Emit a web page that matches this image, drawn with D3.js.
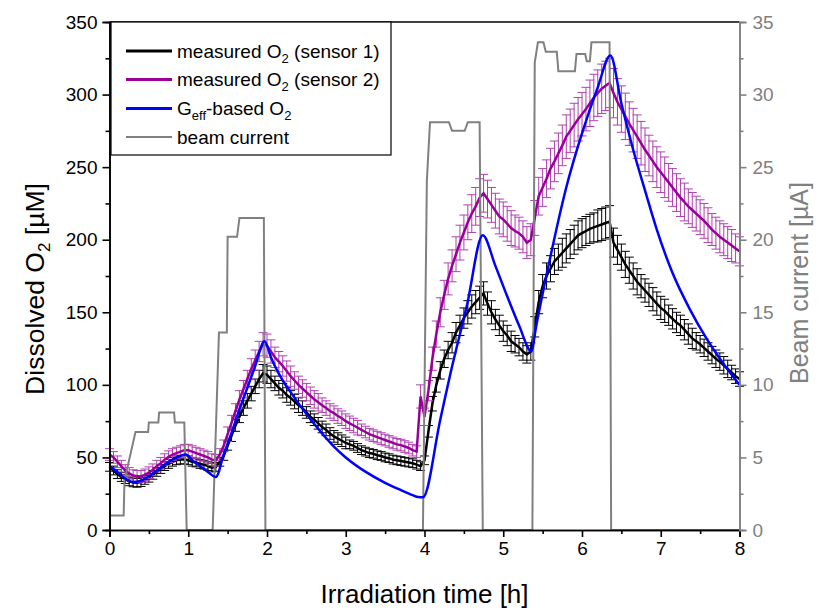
<!DOCTYPE html>
<html><head><meta charset="utf-8">
<script src="https://cdn.jsdelivr.net/npm/d3@7/dist/d3.min.js"></script>
<style>body{margin:0;background:#fff}svg{display:block;font-family:"Liberation Sans",Arial,sans-serif}</style>
</head><body><svg id="c" width="819" height="611"></svg>
<script>
// ---------- data ----------
const xTicks = [0,1,2,3,4,5,6,7,8];
const yTicks = [0,50,100,150,200,250,300,350];
const y2Ticks = [0,5,10,15,20,25,30,35];
const seriesNames = ["measured O2 (sensor 1)","measured O2 (sensor 2)","Geff-based O2","beam current"];

// measurement times [h] (every 3 min)
const tS = d3.range(161).map(i => +(i*0.05).toFixed(2));

const sensor1 = [43.5,41,38.5,36.5,35,33.5,32.8,32.5,33,34.5,36,38,40,42,44,45.5,47,48,48.5,48.5,48,47,46.5,45.5,45,44,43,43.5,
 47,51,58,65,72,78,84,89,94,99,104,108,
 107,104,101,98,96,93,91,88.5,86,84,81,
 78,76,73.5,71,69,66.5,64.5,63,61.5,60,59,58,56.5,55,54,53,52.5,51.5,51,50,49.5,48.5,48,47.5,47,46.5,46,45,44,
 48,68,87,100,110,118,124,129,136,141,146,150,154,157,160,163,
 156,150,145,141,137,134,130,128,126,123,121,123,
 140,157,168,175,180,185,188,191,194,197,200,203,204.5,206,207.5,208.5,209.5,210.5,211.5,212.5,
 198,193,188,183,179,175,171,168,165,162,159,156,153,151,148,145.5,143,141,138,135,132,130,128,125.5,123,120.5,118,116,113.5,111,108.5,106,104];
const err1 = [3,3,3,3,3,3,3,3,3,3,3,3,3,3,3,3,3,3,3,3,3,3,3,3,3,3,3,3,
 3,3,3,4,4,4,5,5,5,5,6,6,
 6,6,5,5,5,5,5,5,5,5,4,
 4,4,4,4,4,4,4,4,4,4,3,3,3,3,3,3,3,3,3,3,3,3,3,3,3,3,3,3,3,
 3,4,5,5,6,6,6,7,7,7,7,8,8,8,8,8,
 8,8,7,7,7,7,7,6,6,6,6,6,
 7,8,8,9,9,9,9,10,10,10,10,10,10,10,10,10,11,11,11,11,
 10,10,9,9,9,9,9,8,8,8,8,8,8,8,7,7,7,7,7,7,7,6,6,6,6,6,6,6,6,6,5,5,5];

const sensor2 = [52,50,47,44,41,39,37.5,37,37,38,39.5,41.5,44,46,48.5,50.5,52,53,54,55,55,54,53,52,51,50,48.5,48,
 52,58,66,74,82,90,97,104,111,117,123,128,
 127,123,119,116,113,109.5,106,103,100,97.5,95,
 92.5,90,88,86,84,82,80.5,78.5,77,75,73.5,72,70.5,69,67.5,66,65,64,63,62,61,60,59,58.5,57.5,56.5,55,54,
 92,
 78,96,118,135,150,162,173,182,190,198,205,212,218,223,229,232,
 228,224,220,216,214,211,208,206,204.5,202,198,200,
 215,230,236,242,249,254,259.5,265,271,275,279,283,286.5,290,294,298,301,304,306,308,
 301,295,290,285,280,275.5,271,266.5,262,258,254,250,246.5,243,239.5,236,232.5,229,226,223,220.5,218,215.5,213,210,207,204.5,202,200,198,196,194,192];
const err2 = [4,4,4,4,4,4,4,4,4,4,4,4,4,4,4,4,4,4,4,4,4,4,4,4,4,4,4,4,
 4,4,5,5,5,6,6,6,7,7,7,8,
 8,8,7,7,7,7,7,6,6,6,6,
 6,6,6,5,5,5,5,5,5,5,5,5,5,4,4,4,4,4,4,4,4,4,4,4,4,4,4,4,
 8,
 6,7,8,9,10,10,11,11,12,12,12,12,13,13,13,13,
 13,12,12,12,12,12,12,11,11,11,11,11,
 12,13,13,13,14,14,14,14,15,15,15,15,15,15,16,16,16,17,17,17,
 17,16,16,16,15,15,15,15,15,14,14,14,14,14,13,13,13,13,13,12,12,12,12,12,12,11,11,11,11,11,11,10,10];

const blueT = [0,0.1,0.2,0.3,0.4,0.5,0.6,0.7,0.8,0.9,0.97,1.05,1.15,1.25,1.35,1.45,1.55,1.65,1.75,1.85,1.97,2.05,2.1,2.2,2.3,2.43,2.6,2.85,3.0,3.27,3.5,3.7,3.85,3.92,3.98,4.2,4.33,4.54,4.74,4.9,5.05,5.2,5.36,5.41,5.59,5.8,6.01,6.2,6.36,6.5,6.65,6.8,6.95,7.15,7.37,7.58,7.79,8.0];
const blueV = [44,40,35.5,33,34,37,41,45,48.5,51,52,48,44,40,36.5,52,67,83,98,113,130,119,113,103,95,85,73,57.5,50,39.5,32.5,27.5,24,22.7,22.5,76,108,155,203,182,161,141,123,138,186,236,275,305,327,294,262,234,207,177,152,132,115,100];

const beamT = [0,0.18,0.19,0.33,0.49,0.50,0.62,0.63,0.82,0.83,0.95,0.98,1.31,1.39,1.49,1.50,1.62,1.65,1.96,1.98,3.98,4.03,4.07,4.31,4.35,4.51,4.55,4.70,4.74,5.37,5.40,5.44,5.51,5.54,5.68,5.70,5.91,5.93,6.04,6.06,6.10,6.12,6.35,6.37,8];
const beamI = [1,1,3.4,6.75,6.75,7.4,7.4,8.1,8.1,7.4,7.4,0,0,13.6,13.6,20.2,20.2,21.5,21.5,0,0,24.1,28.1,28.1,27.5,27.5,28.1,28.1,0,0,32.2,33.6,33.6,32.95,32.95,31.6,31.6,32.8,32.8,32.3,32.3,33.6,33.6,0,0];

// ---------- drawing ----------
const L = 109.5, R = 739.5, T = 22, B = 530;
const svg = d3.select("#c");
const x = d3.scaleLinear().domain([0,8]).range([L,R]);
const y = d3.scaleLinear().domain([0,350]).range([B,T]);
const y2 = d3.scaleLinear().domain([0,35]).range([B,T]);
const GRAY = "#808080", PURPLE = "#990099", PURPLE_BAR = "#b040b0", BLUE = "#0000ff";

svg.append("rect").attr("width",819).attr("height",611).attr("fill","#fff");

function errorBars(vals, errs, color, cls){
  const g = svg.append("g").attr("class",cls).attr("stroke",color).attr("stroke-width",1).attr("fill","none");
  const cw = 4.5;
  g.selectAll("path").data(tS).join("path")
    .attr("d",(t,i)=>{
      const xp = x(t), y1 = y(vals[i]-errs[i]), y2p = y(vals[i]+errs[i]);
      return `M${xp},${y1}V${y2p}M${xp-cw},${y2p}H${xp+cw}M${xp-cw},${y1}H${xp+cw}`;
    });
}
const line = d3.line().x(d=>x(d[0])).y(d=>y(d[1]));

// sensor 1
errorBars(sensor1, err1, "#000", "eb1");
svg.append("path").attr("d", line(tS.map((t,i)=>[t,sensor1[i]]))).attr("fill","none").attr("stroke","#000").attr("stroke-width",2.5);
// sensor 2
errorBars(sensor2, err2, PURPLE_BAR, "eb2");
svg.append("path").attr("d", line(tS.map((t,i)=>[t,sensor2[i]]))).attr("fill","none").attr("stroke",PURPLE).attr("stroke-width",2.5);
// beam current
svg.append("path").attr("d", d3.line().x(d=>x(d[0])).y(d=>y2(d[1]))(beamT.map((t,i)=>[t,beamI[i]])))
  .attr("fill","none").attr("stroke",GRAY).attr("stroke-width",2);
// Geff based
svg.append("path").attr("d", d3.line().curve(d3.curveMonotoneX).x(d=>x(d[0])).y(d=>y(d[1]))(blueT.map((t,i)=>[t,blueV[i]])))
  .attr("fill","none").attr("stroke",BLUE).attr("stroke-width",2.5);

// ---------- axes ----------
function styleAxis(g, color, fs){
  g.selectAll("path.domain").attr("stroke",color).attr("stroke-width",1.6);
  g.selectAll(".tick line").attr("stroke",color).attr("stroke-width",1.6);
  g.selectAll("text").attr("fill",color).style("font-size",fs+"px").style("font-family",'"Liberation Sans",Arial,sans-serif');
}
// top frame
svg.append("line").attr("x1",L).attr("x2",R).attr("y1",T).attr("y2",T).attr("stroke","#000").attr("stroke-width",1.6);

const gxm = svg.append("g").attr("transform",`translate(0,${B})`)
  .call(d3.axisBottom(x).tickValues(d3.range(0.5,8,1)).tickSize(4).tickFormat(""));
styleAxis(gxm,"#000",19);
const gx = svg.append("g").attr("transform",`translate(0,${B})`)
  .call(d3.axisBottom(x).tickValues(xTicks).tickSize(7).tickPadding(5).tickFormat(d3.format("d")));
styleAxis(gx,"#000",19);

const gym = svg.append("g").attr("transform",`translate(${L},0)`)
  .call(d3.axisLeft(y).tickValues(d3.range(25,350,50)).tickSize(4).tickFormat(""));
styleAxis(gym,"#000",19);
const gy = svg.append("g").attr("transform",`translate(${L},0)`)
  .call(d3.axisLeft(y).tickValues(yTicks).tickSize(7).tickPadding(5).tickFormat(d3.format("d")));
styleAxis(gy,"#000",19);

const gy2m = svg.append("g").attr("transform",`translate(${R},0)`)
  .call(d3.axisRight(y2).tickValues(d3.range(2.5,35,5)).tickSize(4).tickFormat(""));
styleAxis(gy2m,GRAY,19);
const gy2 = svg.append("g").attr("transform",`translate(${R},0)`)
  .call(d3.axisRight(y2).tickValues(y2Ticks).tickSize(7).tickPadding(6).tickFormat(d3.format("d")));
styleAxis(gy2,GRAY,19);

// axis titles
svg.append("text").attr("x",(L+R)/2).attr("y",603).attr("text-anchor","middle")
  .style("font-size","26px").attr("fill","#000").text("Irradiation time [h]");
const yt = svg.append("text").attr("transform","translate(44,289) rotate(-90)").attr("text-anchor","middle")
  .style("font-size","26.5px").attr("fill","#000");
yt.append("tspan").text("Dissolved O");
yt.append("tspan").text("2").style("font-size","17px").attr("dy",6);
yt.append("tspan").text(" [\u00B5M]").attr("dy",-6);
svg.append("text").attr("transform","translate(808,283) rotate(-90)").attr("text-anchor","middle")
  .style("font-size","25px").attr("fill",GRAY).text("Beam current [\u00B5A]");

// ---------- legend ----------
const lg = svg.append("g");
lg.append("rect").attr("x",111).attr("y",T).attr("width",280).attr("height",133)
  .attr("fill","#fff").attr("stroke","#000").attr("stroke-width",1.2);
const legRows = [
  {c:"#000", w:3, parts:[["measured O",0],["2",1],[" (sensor 1)",0]]},
  {c:PURPLE, w:3, parts:[["measured O",0],["2",1],[" (sensor 2)",0]]},
  {c:BLUE, w:3, parts:[["G",0],["eff",1],["-based O",0],["2",1]]},
  {c:GRAY, w:2, parts:[["beam current",0]]}
];
const rowY = [51,79.5,108.5,137];
legRows.forEach((r,i)=>{
  lg.append("line").attr("x1",126).attr("x2",172).attr("y1",rowY[i]).attr("y2",rowY[i])
    .attr("stroke",r.c).attr("stroke-width",r.w);
  const tx = lg.append("text").attr("x",177).attr("y",rowY[i]+6.5).style("font-size","19px").attr("fill","#000");
  let sub = 0;
  r.parts.forEach(p=>{
    const s = tx.append("tspan").text(p[0]);
    if(p[1] && !sub){ s.attr("dy",5).style("font-size","13px"); sub=1; }
    else if(!p[1] && sub){ s.attr("dy",-5); sub=0; }
    else if(p[1]) s.style("font-size","13px");
  });
});
</script>
</body></html>
